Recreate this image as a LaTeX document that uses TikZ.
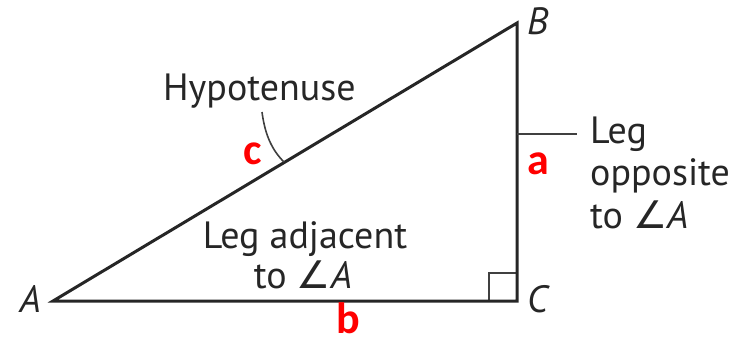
\documentclass[tikz,border=0pt]{standalone}
\usepackage{fontspec}
\setmainfont{PT Sans}
\newfontfamily\redfont{Carlito}
\newfontfamily\symfont{DejaVu Sans}
\newcommand{\myang}{{\symfont ∠}}
\begin{document}
\begin{tikzpicture}[x=1pt,y=-1pt,
  lbl/.style={font=\fontsize{38}{42}\selectfont, text=black!85, inner sep=0pt},
  vtx/.style={font=\fontsize{38}{42}\selectfont\itshape, text=black!85, inner sep=0pt},
  side/.style={font=\fontsize{44}{48}\redfont\bfseries, text=red, inner sep=0pt},
  edge/.style={line width=3pt, black!85},
  thin/.style={line width=1.6pt, black!75}]
\useasboundingbox (0,0) rectangle (740,341);
\coordinate (A) at (53,301);
\coordinate (B) at (517,23);
\coordinate (C) at (517,301);
\draw[thin] (489,301) -- (489,273) -- (517,273);
\draw[edge, line join=miter] (A) -- (B) -- (C) -- cycle;
\coordinate (t1) at (517,134);
\coordinate (t2) at (577,134);
\draw[thin] (t1) -- (t2);
\coordinate (h1) at (262,112);
\coordinate (h2) at (284,162);
\draw[thin] (h1) .. controls (265,135) and (272,150) .. (h2);
\node[vtx, anchor=base east] (lA) at (41,312) {A};
\node[vtx, anchor=base west] (lB) at (527,34) {B};
\node[vtx, anchor=base west] (lC) at (527,312) {C};
\node[lbl, anchor=base west] (hyp) at (163,100) {Hypotenuse};
\node[lbl, anchor=base west] (opp1) at (590,143) {Leg};
\node[lbl, anchor=base west] (opp2) at (590,185) {opposite};
\node[lbl, anchor=base west] (opp3) at (590,228) {to \myang\textit{A}};
\node[lbl, anchor=base] (adj1) at (305,248) {Leg adjacent};
\node[lbl, anchor=base] (adj2) at (303,288) {to \myang\textit{A}};
\node[side] (a) at (538,164) {a};
\node[side, anchor=base] (b) at (348,333) {b};
\node[side] (c) at (253,154) {c};
\end{tikzpicture}
\end{document}
